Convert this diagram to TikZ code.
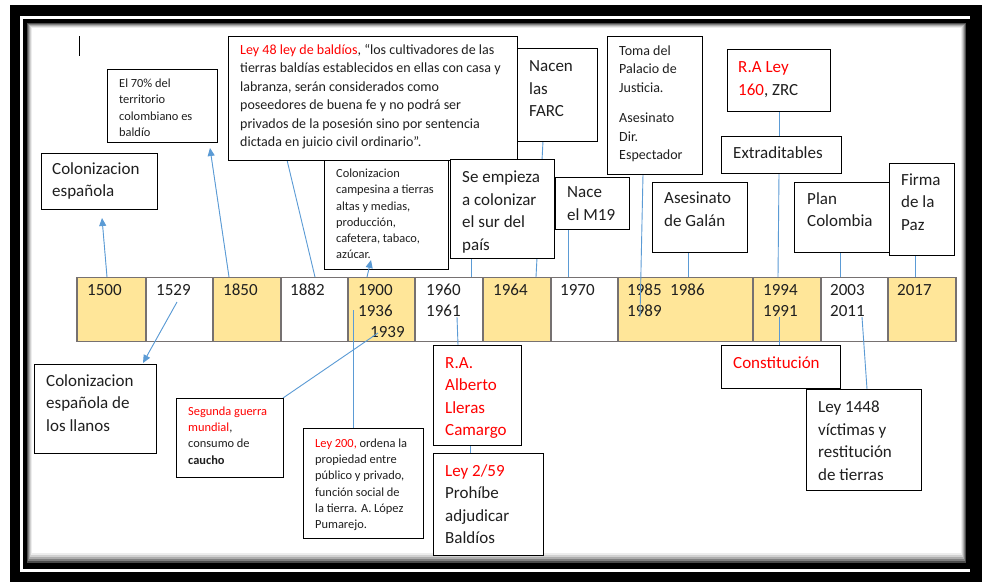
\documentclass[tikz,border=0pt]{standalone}
\usepackage{fontspec}
\setmainfont{Carlito}
\usetikzlibrary{arrows.meta,fit}
\definecolor{lblue}{HTML}{5B9BD5}
\definecolor{cyel}{HTML}{FFE699}
\definecolor{cred}{HTML}{FF0000}
\definecolor{txt}{HTML}{1F1F1F}
\definecolor{cellb}{HTML}{767171}
\newcommand{\fl}{\rule{0pt}{.85em}}
\newcommand{\rd}[1]{\textcolor{cred}{#1}}
\begin{document}
\begin{tikzpicture}[x=1pt,y=-1pt,
  box/.style={draw=black,fill=white,line width=0.9pt,inner sep=0pt},
  cellY/.style={draw=cellb,fill=cyel,line width=1.3pt,inner sep=0pt},
  cellW/.style={draw=cellb,fill=white,line width=1.3pt,inner sep=0pt},
  yr/.style={anchor=base west,inner sep=0pt,font=\fontsize{17}{21.5}\selectfont,text=txt},
  bigt/.style={anchor=north west,inner sep=0pt,align=left,font=\fontsize{17}{22.5}\selectfont,text=txt,yshift=3.54pt},
  medt/.style={anchor=north west,inner sep=0pt,align=left,font=\fontsize{14}{18.5}\selectfont,text=txt,yshift=2.91pt},
  smlt/.style={anchor=north west,inner sep=0pt,align=left,font=\fontsize{12.4}{16.3}\selectfont,text=txt,yshift=2.58pt},
  conn/.style={draw=lblue,line width=0.9pt},
  arr/.style={draw=lblue,fill=lblue,line width=0.9pt,-{Triangle[length=8pt,width=7pt]}}]
\useasboundingbox (0,0) rectangle (982,582);
% frame
\fill[black] (10,5) rectangle (982,582);
\fill[white] (20,16) rectangle (970,572);
\fill[black] (23,19) rectangle (970,569);
\fill[black!70] (27,23) rectangle (966,563);
\fill[black!50] (28,24) rectangle (965,561);
\fill[black!32] (29,25) rectangle (964,559);
\fill[black!18] (30,26) rectangle (963,557);
\fill[black!7] (31,27) rectangle (962,555);
\fill[white] (32,28) rectangle (961,553);
% cursor
\coordinate (cu1) at (79,36);
\coordinate (cu2) at (79,56);
\draw[black,line width=0.9pt] (cu1) -- (cu2);
% timeline cells
\node[cellY,fit={(77,277.5) (146,341.5)}] (k1) {};
\node[cellW,fit={(146,277.5) (213,341.5)}] (k2) {};
\node[cellY,fit={(213,277.5) (281,341.5)}] (k3) {};
\node[cellW,fit={(281,277.5) (348,341.5)}] (k4) {};
\node[cellY,fit={(348,277.5) (415,341.5)}] (k5) {};
\node[cellW,fit={(415,277.5) (483,341.5)}] (k6) {};
\node[cellY,fit={(483,277.5) (551,341.5)}] (k7) {};
\node[cellW,fit={(551,277.5) (618,341.5)}] (k8) {};
\node[cellY,fit={(618,277.5) (753,341.5)}] (k9) {};
\node[cellY,fit={(753,277.5) (821,341.5)}] (k10) {};
\node[cellW,fit={(821,277.5) (888,341.5)}] (k11) {};
\node[cellY,fit={(888,277.5) (956,341.5)}] (k12) {};
% years
\node[yr] (y1500) at (87,295) {1500};
\node[yr] (y1529) at (156,295) {1529};
\node[yr] (y1850) at (223,295) {1850};
\node[yr] (y1882) at (290,295) {1882};
\node[yr] (y1900) at (358,295) {1900};
\node[yr] (y1936) at (358,316) {1936};
\node[yr] (y1939) at (370,337) {1939};
\node[yr] (y1960) at (426,295) {1960};
\node[yr] (y1961) at (426,316) {1961};
\node[yr] (y1964) at (493,295) {1964};
\node[yr] (y1970) at (560,295) {1970};
\node[yr] (y1985) at (627,295) {1985};
\node[yr] (y1986) at (670,295) {1986};
\node[yr] (y1989) at (627,316) {1989};
\node[yr] (y1994) at (763,295) {1994};
\node[yr] (y1991) at (763,316) {1991};
\node[yr] (y2003) at (830,295) {2003};
\node[yr] (y2011) at (830,316) {2011};
\node[yr] (y2017) at (897,295) {2017};
% connector end points
\coordinate (a1s) at (107,277); \coordinate (a1e) at (102,218);
\coordinate (a2s) at (229,277); \coordinate (a2e) at (210,148);
\coordinate (l3s) at (287,160); \coordinate (l3e) at (315,277);
\coordinate (a4s) at (367,277); \coordinate (a4e) at (371,260);
\coordinate (l5s) at (471,258); \coordinate (l5e) at (471,277);
\coordinate (l6s) at (543,141); \coordinate (l6e) at (536,277);
\coordinate (l7s) at (568,229); \coordinate (l7e) at (568,277);
\coordinate (l8s) at (643,174); \coordinate (l8e) at (640,317);
\coordinate (l9s) at (688,252); \coordinate (l9e) at (688,277);
\coordinate (l10s) at (779,111); \coordinate (l10e) at (779,136);
\coordinate (l11s) at (779,173); \coordinate (l11e) at (778,277);
\coordinate (l12s) at (840,252); \coordinate (l12e) at (840,277);
\coordinate (l13s) at (915,255); \coordinate (l13e) at (915,277);
\coordinate (a14s) at (177,302); \coordinate (a14e) at (143,363);
\coordinate (l15s) at (353,310); \coordinate (l15e) at (353,428);
\coordinate (l16s) at (378,333); \coordinate (l16e) at (283,398);
\coordinate (l17s) at (457,317); \coordinate (l17e) at (458,345);
\coordinate (l18s) at (470,445); \coordinate (l18e) at (470,453);
\coordinate (l19s) at (779,317); \coordinate (l19e) at (779,345);
\coordinate (l20s) at (862,317); \coordinate (l20e) at (867,389);
\draw[arr] (a1s) -- (a1e);
\draw[arr] (a2s) -- (a2e);
\draw[conn] (l3s) -- (l3e);
\draw[conn] (l5s) -- (l5e);
\draw[conn] (l6s) -- (l6e);
\draw[conn] (l7s) -- (l7e);
\draw[conn] (l8s) -- (l8e);
\draw[conn] (l9s) -- (l9e);
\draw[conn] (l10s) -- (l10e);
\draw[conn] (l11s) -- (l11e);
\draw[conn] (l12s) -- (l12e);
\draw[conn] (l13s) -- (l13e);
\draw[conn] (l15s) -- (l15e);
\draw[conn] (l16s) -- (l16e);
\draw[conn] (l17s) -- (l17e);
\draw[conn] (l18s) -- (l18e);
\draw[conn] (l19s) -- (l19e);
\draw[conn] (l20s) -- (l20e);
% boxes above the timeline
\node[box,fit={(107,69) (217,142)}] (b70) {};
\begin{scope}
\clip (108,70) rectangle (216,135.5);
\node[smlt] (t70) at (119,79.3) {\fl El 70\% del\\territorio\\colombiano es\\baldío};
\end{scope}
\node[box,fit={(41,153) (157,209)}] (bcolesp) {};
\node[bigt] (tcolesp) at (52,163.3) {\fl Colonizacion\\española};
\node[box,fit={(512,48) (597,141)}] (bfarc) {};
\node[bigt] (tfarc) at (529,60.7) {\fl Nacen\\las\\FARC};
\node[box,fit={(324,150) (448,269)}] (bcamp) {};
\node[smlt] (tcamp) at (336,169.3) {\fl Colonizacion\\campesina a tierras\\altas y medias,\\producción,\\cafetera, tabaco,\\azúcar.};
\node[box,fit={(228,36) (517,160)}] (bley48) {};
\node[medt] (tley48) at (240,45) {\fl \rd{Ley 48 ley de baldíos}, “los cultivadores de las\\tierras baldías establecidos en ellas con casa y\\labranza, serán considerados como\\poseedores de buena fe y no podrá ser\\privados de la posesión sino por sentencia\\dictada en juicio civil ordinario”.};
\node[box,fit={(450,159) (554,258)}] (bsur) {};
\node[bigt] (tsur) at (462,171.7) {\fl Se empieza\\a colonizar\\el sur del\\país};
\node[box,fit={(555,177) (629,229)}] (bm19) {};
\node[bigt] (tm19) at (567,186.7) {\fl Nace\\el M19};
\node[box,fit={(607,36) (702,174)}] (btoma) {};
\node[medt] (ttoma) at (619,46) {\fl Toma del\\Palacio de\\Justicia.\\[12pt]Asesinato\\Dir.\\Espectador};
\node[box,fit={(652,182) (747,252)}] (bgalan) {};
\node[bigt] (tgalan) at (664,192.7) {\fl Asesinato\\de Galán};
\node[box,fit={(727,49) (830,111)}] (bra160) {};
\node[bigt] (tra160) at (738,61.7) {\fl \rd{R.A Ley}\\\rd{160}, ZRC};
\node[box,fit={(721,136) (841,173)}] (bextra) {};
\node[bigt] (textra) at (733,147.3) {\fl Extraditables};
\node[box,fit={(794,182) (889,252)}] (bplan) {};
\node[bigt] (tplan) at (807,193) {\fl Plan\\Colombia};
\node[box,fit={(889,163) (954,255)}] (bfirma) {};
\node[bigt] (tfirma) at (901,174.3) {\fl Firma\\de la\\Paz};
% boxes below the timeline
\node[box,fit={(34,364) (156,453)}] (bllanos) {};
\node[bigt] (tllanos) at (46,375) {\fl Colonizacion\\española de\\los llanos};
\node[box,fit={(176,398) (283,477)}] (bseg) {};
\node[smlt] (tseg) at (188,407) {\fl \rd{Segunda guerra}\\\rd{mundial},\\consumo de\\\textbf{caucho}};
\node[box,fit={(303,428) (423,538)}] (bley200) {};
\node[smlt] (tley200) at (315,439) {\fl \rd{Ley 200,} ordena la\\propiedad entre\\público y privado,\\función social de\\la tierra. A. López\\Pumarejo.};
\node[box,fit={(433,345) (521,445)}] (bra) {};
\node[bigt,text=cred] (tra) at (445,357) {\fl R.A.\\Alberto\\Lleras\\Camargo};
\node[box,fit={(433,453) (543,555)}] (bley259) {};
\node[bigt] (tley259) at (445,465) {\fl \rd{Ley 2/59}\\Prohíbe\\adjudicar\\Baldíos};
\node[box,fit={(721,345) (840,388)}] (bconst) {};
\node[bigt,text=cred] (tconst) at (733,357) {\fl Constitución};
\node[box,fit={(806,389) (921,490)}] (bley1448) {};
\node[bigt] (tley1448) at (818,401.7) {\fl Ley 1448\\víctimas y\\restitución\\de tierras};
% arrows drawn over boxes
\draw[arr] (a4s) -- (a4e);
\draw[arr] (a14s) -- (a14e);
\end{tikzpicture}
\end{document}
